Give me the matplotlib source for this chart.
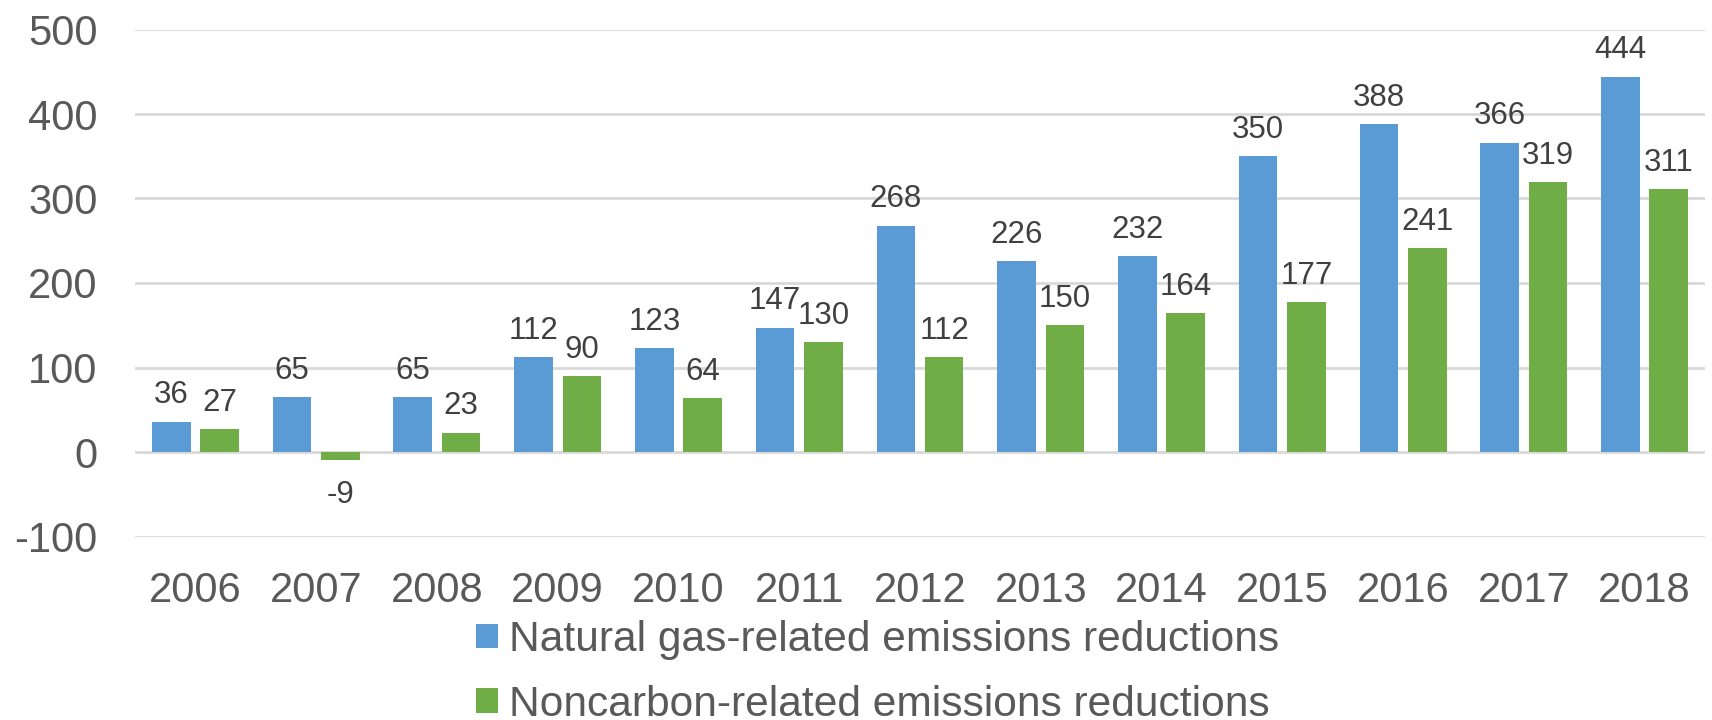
import matplotlib
matplotlib.use("Agg")
import matplotlib.pyplot as plt
import numpy as np
from matplotlib.patches import Patch

plt.rcParams['font.family'] = ['Liberation Sans', 'DejaVu Sans']

years = ['2006', '2007', '2008', '2009', '2010', '2011', '2012',
         '2013', '2014', '2015', '2016', '2017', '2018']
natural_gas = [36, 65, 65, 112, 123, 147, 268, 226, 232, 350, 388, 366, 444]
noncarbon = [27, -9, 23, 90, 64, 130, 112, 150, 164, 177, 241, 319, 311]
series_names = ['Natural gas-related emissions reductions',
                'Noncarbon-related emissions reductions']
y_ticks = [-100, 0, 100, 200, 300, 400, 500]

BLUE = '#5B9BD5'
GREEN = '#70AD47'
GRID = '#D9D9D9'
TICK_TXT = '#595959'
LABEL_TXT = '#404040'

W, H, DPI = 1712, 720, 100
fig = plt.figure(figsize=(W / DPI, H / DPI), dpi=DPI)
ax = fig.add_axes([135 / W, 1 - 536.5 / H, (1705 - 135) / W, (536.5 - 29.5) / H])

x = np.arange(len(years))
bw = 0.32
off = 0.2
b1 = ax.bar(x - off, natural_gas, width=bw, color=BLUE, zorder=3)
b2 = ax.bar(x + off, noncarbon, width=bw, color=GREEN, zorder=3)

ax.set_xlim(-0.5, len(years) - 0.5)
ax.set_ylim(-100, 500)
ax.set_yticks(y_ticks)
ax.set_yticklabels([str(v) for v in y_ticks])
ax.set_xticks(x)
ax.set_xticklabels(years)

ax.set_axisbelow(True)
ax.yaxis.grid(True, color=GRID, linewidth=2)
ax.xaxis.grid(False)
for s in ax.spines.values():
    s.set_visible(False)
ax.tick_params(axis='both', length=0, labelsize=30, labelcolor=TICK_TXT)
ax.tick_params(axis='y', pad=27)
ax.tick_params(axis='x', pad=25)

# value labels above (or below) each bar
for bars, vals in ((b1, natural_gas), (b2, noncarbon)):
    for rect, v in zip(bars, vals):
        cx = rect.get_x() + rect.get_width() / 2
        dy = 13.2 if v >= 0 else -31.2
        ax.annotate(str(v), (cx, v), xytext=(0, dy), textcoords='offset points',
                    ha='center', va='baseline', fontsize=22.5, color=LABEL_TXT)

handles = [Patch(facecolor=BLUE, edgecolor='none'),
           Patch(facecolor=GREEN, edgecolor='none')]
fig.legend(handles, series_names, loc='center left',
           bbox_to_anchor=(476 / W, 1 - 672.5 / H), frameon=False,
           fontsize=30.6, labelcolor=TICK_TXT, handlelength=0.52, handleheight=0.52,
           handletextpad=0.25, labelspacing=0.58, borderpad=0, borderaxespad=0)

fig.savefig('out.png', dpi=DPI)
